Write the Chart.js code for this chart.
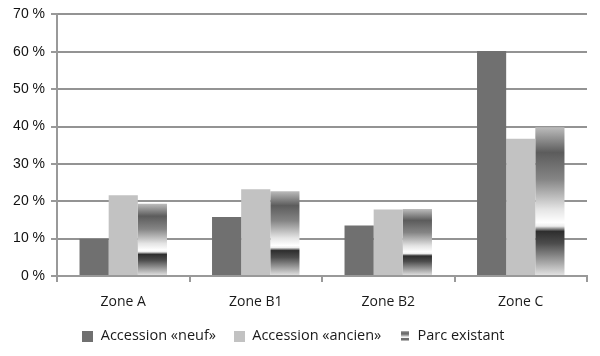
<!DOCTYPE html>
<html>
<head>
<meta charset="utf-8">
<script src="https://cdn.jsdelivr.net/npm/chart.js@4.4.1/dist/chart.umd.min.js"></script>
<style>
  html, body { margin: 0; padding: 0; background: #fff; }
  #wrap { width: 600px; height: 356px; position: relative; }
</style>
</head>
<body>
<div id="wrap"><canvas id="c" width="600" height="356"></canvas></div>
<script>
const categories = ['Zone A', 'Zone B1', 'Zone B2', 'Zone C'];
const seriesNames = ['Accession «neuf»', 'Accession «ancien»', 'Parc existant'];
const accessionNeuf = [10.0, 15.8, 13.5, 60.2];
const accessionAncien = [21.6, 23.2, 17.8, 36.7];
const parcExistant = [19.3, 22.7, 17.9, 39.8];
const yTicks = [0, 10, 20, 30, 40, 50, 60, 70];

const DARK = '#707070';
const LIGHT = '#c2c2c2';

const gradStops = [
  [0.00, '#bcbcbc'],
  [0.17, '#5c5c5c'],
  [0.35, '#858585'],
  [0.55, '#e4e4e4'],
  [0.64, '#ffffff'],
  [0.665, '#eeeeee'],
  [0.70, '#2e2e2e'],
  [0.78, '#4c4c4c'],
  [1.00, '#e6e6e6']
];

function barGradient(ctx) {
  const chart = ctx.chart;
  if (ctx.dataIndex === undefined || !chart.chartArea || !chart.scales.y) return '#888';
  const y = chart.scales.y;
  const top = y.getPixelForValue(ctx.raw);
  const bot = y.getPixelForValue(0);
  const g = chart.ctx.createLinearGradient(0, top, 0, bot);
  gradStops.forEach(s => g.addColorStop(s[0], s[1]));
  return g;
}

function makeIcon(w, h, painter) {
  const cv = document.createElement('canvas');
  cv.width = w; cv.height = h;
  painter(cv.getContext('2d'), w, h);
  return cv;
}
const iconDark = makeIcon(11, 11, (c, w, h) => { c.fillStyle = DARK; c.fillRect(0, 0, w, h); });
const iconLight = makeIcon(11, 11, (c, w, h) => { c.fillStyle = LIGHT; c.fillRect(0, 0, w, h); });
const iconParc = makeIcon(8, 10, (c, w, h) => {
  const g = c.createLinearGradient(0, 0, 0, h);
  gradStops.forEach(s => g.addColorStop(s[0], s[1]));
  c.fillStyle = g; c.fillRect(0, 0, w, h);
});
const icons = [iconDark, iconLight, iconParc];

const legendFix = {
  id: 'legendFix',
  afterInit(chart) {
    const lg = chart.legend;
    if (lg && !lg._patched) {
      const orig = lg.fit;
      lg.fit = function () { orig.call(this); this.height = 45; };
      lg._patched = true;
    }
  }
};

new Chart(document.getElementById('c'), {
  type: 'bar',
  data: {
    labels: categories,
    datasets: [
      { label: seriesNames[0], data: accessionNeuf, backgroundColor: DARK },
      { label: seriesNames[1], data: accessionAncien, backgroundColor: LIGHT },
      { label: seriesNames[2], data: parcExistant, backgroundColor: barGradient }
    ]
  },
  plugins: [legendFix],
  options: {
    responsive: false,
    animation: false,
    devicePixelRatio: 1,
    layout: { padding: { top: 4, right: 13, bottom: 0, left: 0 } },
    datasets: { bar: { categoryPercentage: 0.66, barPercentage: 1.0, borderWidth: 0 } },
    plugins: {
      tooltip: { enabled: false },
      legend: {
        position: 'bottom',
        labels: {
          usePointStyle: true,
          boxWidth: 11,
          boxHeight: 11,
          padding: 18,
          color: '#1a1a1a',
          font: { family: 'Open Sans', size: 14.5 },
          generateLabels(chart) {
            return chart.data.datasets.map((ds, i) => ({
              text: ds.label,
              pointStyle: icons[i],
              fillStyle: i === 0 ? DARK : LIGHT,
              strokeStyle: 'transparent',
              lineWidth: 0,
              hidden: false,
              datasetIndex: i,
              fontColor: '#1a1a1a'
            }));
          }
        }
      }
    },
    scales: {
      x: {
        afterFit(s) { s.height = 35; },
        grid: {
          offset: true,
          drawOnChartArea: false,
          drawTicks: true,
          tickLength: 6,
          color: '#999',
          lineWidth: 2
        },
        border: { display: true, color: '#999', width: 2 },
        ticks: {
          padding: 12,
          color: '#1a1a1a',
          font: { family: 'Open Sans', size: 14 }
        }
      },
      y: {
        min: 0,
        max: 70,
        afterFit(s) { s.width = 57; },
        afterBuildTicks(s) { s.ticks = yTicks.map(v => ({ value: v })); },
        grid: {
          color: '#939393',
          lineWidth: 2,
          borderDash: [2, 1],
          drawTicks: true,
          tickLength: 6,
          tickColor: '#999',
          tickBorderDash: []
        },
        border: { display: true, color: '#999', width: 2 },
        ticks: {
          padding: 6,
          color: '#111',
          font: { family: 'Liberation Sans', size: 14 },
          callback: v => v + ' %'
        }
      }
    }
  }
});
</script>
</body>
</html>
